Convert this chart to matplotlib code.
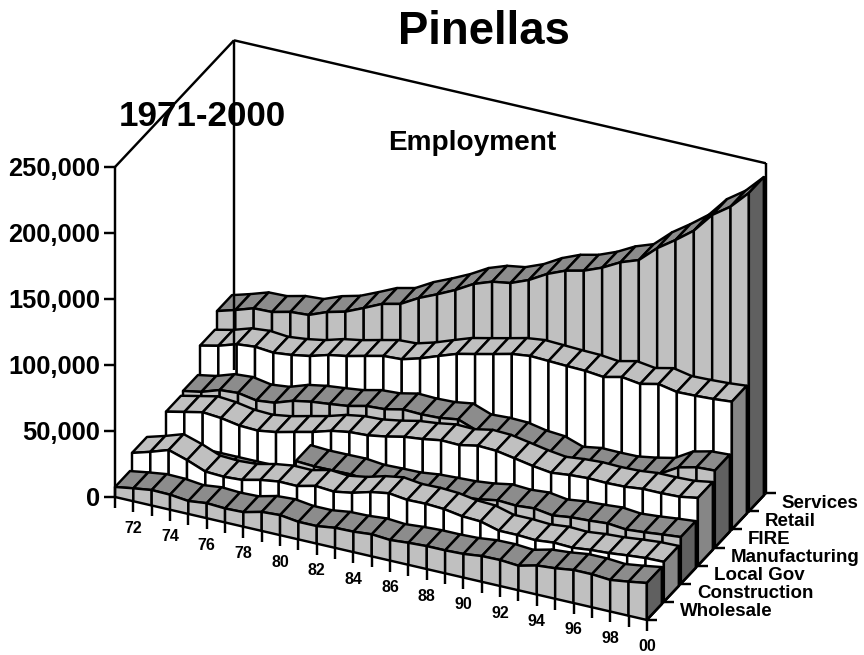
#!/usr/bin/python3

import matplotlib
matplotlib.use("Agg")
import matplotlib.pyplot as plt

# Employment in thousands, 1971-2000
years = list(range(1971, 2001))
wholesale = [7.6, 9.8, 11.7, 11.4, 9.8, 11.4, 10.6, 11, 14.4, 15.2, 13.3, 13.3, 15.2, 15.5, 16.7, 15.6, 16.7, 17.4, 17.4, 17.9, 19.5, 19.7, 18.6, 22, 23.1, 25, 25, 23.9, 25.8, 28]
construction = [19.7, 23.7, 28.3, 23.9, 18.4, 17.7, 18.5, 21.7, 23.7, 23.5, 26.8, 25.7, 28, 31.8, 34.1, 32.3, 32.6, 31.8, 29.5, 28.8, 25, 25, 24.2, 25.6, 25, 26.5, 27.3, 28.8, 30, 30.3]
localGovEarly = [3.8, 3.8, 3.8, 3.8, 3.8, 3.8, 3.8, 3.8]  # 1971-1978, series jumps in 1979
localGov = [25.5, 24.7, 24.8, 25, 23.5, 23.9, 24.1, 25.8, 26.5, 27.1, 28.6, 31.1, 30.3, 31.4, 29.3, 31.1, 31.8, 32.9, 31.5, 32.6, 34.1, 35.4]
manufacturing = [23.5, 26.5, 29.5, 28.3, 25.8, 25.2, 27.3, 30.6, 33.8, 37.9, 40.2, 40.9, 43.2, 46.2, 47.7, 50, 49.6, 52.3, 51.7, 49.2, 46.6, 44.7, 46.2, 47, 46.6, 47, 48.5, 48.5, 49, 51.3]
fire = [25.5, 28, 32.6, 33.6, 31.1, 32.6, 37.3, 39.8, 41.3, 43, 46.2, 47, 50, 49.5, 50, 52.1, 47, 47.7, 47.3, 44.5, 43.4, 38.6, 40.9, 40.7, 40.9, 43.2, 46.2, 54.3, 57.6, 58.3]
retail = [46.1, 49.2, 53.6, 54.9, 53.6, 55.1, 57.5, 61.5, 63.9, 67.2, 70.4, 71.1, 75, 80, 84.8, 87.9, 91.1, 94.4, 96.1, 95.5, 94.9, 94.5, 93, 96.2, 94.2, 97.3, 94.5, 94.9, 95.6, 96.8]
services = [58.6, 62.6, 67.1, 67.5, 70.8, 71.7, 77.1, 80.6, 86.6, 92.9, 96.1, 103.8, 109.8, 116.3, 124.1, 129, 131.2, 136.7, 144.5, 150.2, 153.4, 158.9, 166.2, 171.1, 183.3, 192.7, 203, 218.1, 227.6, 241.2]

seriesNames = ["Wholesale", "Construction", "Local Gov", "Manufacturing", "FIRE", "Retail", "Services"]
valueTicks = [0, 50, 100, 150, 200, 250]
valueLabels = ["0", "50,000", "100,000", "150,000", "200,000", "250,000"]
yearLabels = ["72", "74", "76", "78", "80", "82", "84", "86", "88", "90", "92", "94", "96", "98", "00"]

# Oblique projection, in output pixels
originX = 115.0
originY = 497.0
yearDx = 18.34
yearDy = 4.24
depthDx = 17.0
depthDy = -18.1
valueDy = -1.32
ribbonWidth = 0.88
lineWidth = 1.75

plt.rcParams["font.family"] = ["Liberation Sans", "DejaVu Sans"]
plt.rcParams["font.weight"] = "bold"


def project(year, depth, value):
	i = year - years[0]
	return (originX + yearDx * i + depthDx * depth, originY + yearDy * i + depthDy * depth + valueDy * value)


def face(ax, points, color):
	xs = [p[0] for p in points]
	ys = [p[1] for p in points]
	ax.fill(xs, ys, facecolor=color, edgecolor="black", linewidth=lineWidth, joinstyle="round")


# One ribbon: tops first, then the front wall, then the end cap
def ribbon(ax, firstYear, values, depth, frontColor, topColor, sideColor, cap=True):
	yrs = [firstYear + k for k in range(len(values))]
	back = depth + ribbonWidth
	for k in range(len(values) - 1):
		face(ax, [project(yrs[k], depth, values[k]), project(yrs[k + 1], depth, values[k + 1]),
			project(yrs[k + 1], back, values[k + 1]), project(yrs[k], back, values[k])], topColor)
	for k in range(len(values) - 1):
		face(ax, [project(yrs[k], depth, 0), project(yrs[k + 1], depth, 0),
			project(yrs[k + 1], depth, values[k + 1]), project(yrs[k], depth, values[k])], frontColor)
	if cap:
		face(ax, [project(yrs[-1], depth, 0), project(yrs[-1], back, 0),
			project(yrs[-1], back, values[-1]), project(yrs[-1], depth, values[-1])], sideColor)


def line(ax, a, b, width=lineWidth):
	ax.plot([a[0], b[0]], [a[1], b[1]], color="black", linewidth=width, solid_capstyle="butt")


fig = plt.figure(figsize=(8.64, 6.55), dpi=100)
ax = fig.add_axes([0, 0, 1, 1])
ax.set_xlim(0, 864)
ax.set_ylim(655, 0)
ax.axis("off")

first = years[0]
last = years[-1]
depthMax = len(seriesNames)
top = valueTicks[-1]

# Walls of the box
line(ax, project(first, 0, 0), project(first, 0, top))
line(ax, project(first, 0, top), project(first, depthMax, top))
line(ax, project(first, depthMax, top), project(last, depthMax, top))
line(ax, project(first, depthMax, top), project(first, depthMax, 0))
line(ax, project(last, depthMax, top), project(last, depthMax, 0))

# Ribbons, back to front
ribbon(ax, first, services, 6, "#c0c0c0", "#8c8c8c", "#606060")
ribbon(ax, first, retail, 5, "#ffffff", "#c0c0c0", "#868686")
ribbon(ax, first, fire, 4, "#c0c0c0", "#8c8c8c", "#606060")
ribbon(ax, first, manufacturing, 3, "#ffffff", "#c0c0c0", "#868686")
ribbon(ax, first, localGovEarly, 2, "#c0c0c0", "#8c8c8c", "#606060", cap=False)
ribbon(ax, 1979, localGov, 2, "#c0c0c0", "#8c8c8c", "#606060")
ribbon(ax, first, construction, 1, "#ffffff", "#c0c0c0", "#868686")
ribbon(ax, first, wholesale, 0, "#c0c0c0", "#8c8c8c", "#606060")

# Floor edge on the right
line(ax, project(last, 0, 0), project(last, depthMax, 0))

# Value axis
for value, label in zip(valueTicks, valueLabels):
	x, y = project(first, 0, value)
	line(ax, (x - 11, y), (x, y))
	ax.text(x - 15, y + 2, label, ha="right", va="center", fontsize=18.3)

# Year axis
for year in years:
	x, y = project(year, 0, 0)
	line(ax, (x, y), (x, y + 11))
for k, label in enumerate(yearLabels):
	x, y = project(years[k * 2 + 1] if k < 14 else last, 0, 0)
	ax.text(x, y + 27, label, ha="center", va="center", fontsize=11.5)

# Series axis
for depth in range(depthMax + 1):
	x, y = project(last, depth, 0)
	line(ax, (x, y), (x + 10, y))
for depth, name in enumerate(seriesNames):
	x, y = project(last, depth, 0)
	ax.text(x + 33, y - 8, name, ha="left", va="center", fontsize=13.5)

ax.text(484, 32, "Pinellas", ha="center", va="center", fontsize=32.8)
ax.text(202, 116, "1971-2000", ha="center", va="center", fontsize=25.2)
ax.text(472, 143, "Employment", ha="center", va="center", fontsize=20.2)

fig.savefig("out.png", dpi=100)
